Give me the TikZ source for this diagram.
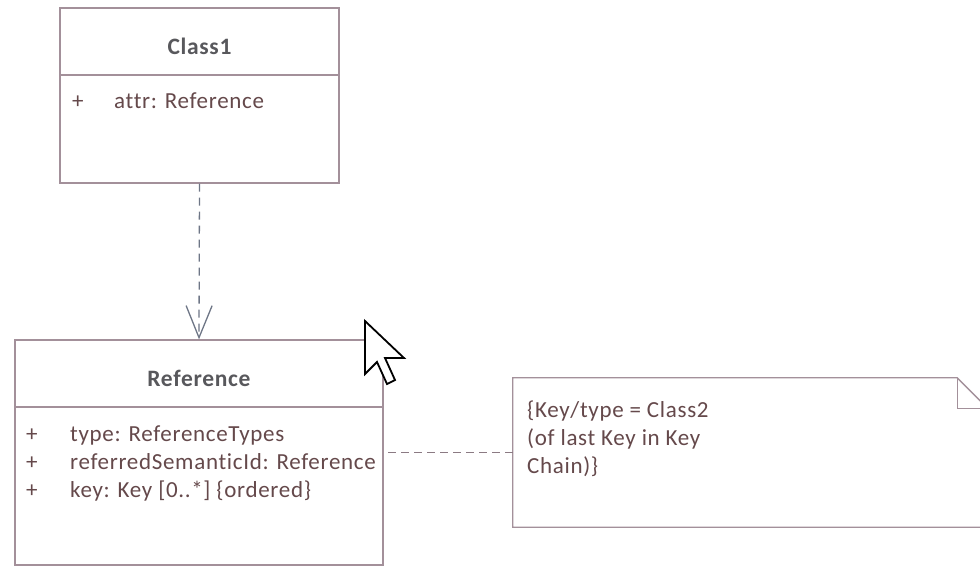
\documentclass[tikz,border=0pt]{standalone}
\usepackage{fontspec}
\setmainfont{Carlito}
\newfontfamily\umlfont[LetterSpace=3, Ligatures=NoCommon]{Carlito}
\usetikzlibrary{arrows.meta,calc}
\definecolor{umlline}{HTML}{A3909A}
\definecolor{umltext}{HTML}{65494B}
\definecolor{umltitle}{HTML}{58585C}
\definecolor{deparrow}{HTML}{6E7686}
\tikzset{
  classbox/.style={draw=umlline, line width=1.3pt, fill=white, rectangle, inner sep=0pt},
  divider/.style={draw=umlline, line width=1.3pt},
  title/.style={font=\umlfont\fontsize{23.5}{26}\selectfont\bfseries, text=umltitle, inner sep=0pt},
  attr/.style={font=\umlfont\fontsize{23}{28}\selectfont, text=umltext, inner sep=0pt, anchor=base west},
  dep/.style={draw=deparrow, line width=1.3pt, dash pattern=on 8pt off 6pt,
    -{Straight Barb[length=32pt, width=26pt, line width=1.3pt]}},
  notelink/.style={draw=umlline!85!black, line width=1.4pt, dash pattern=on 8pt off 5pt},
  cursor/.style={draw=black, fill=white, line width=1.8pt, line join=miter}
}
\begin{document}
\begin{tikzpicture}[x=1pt, y=-1pt]
\useasboundingbox (0,0) rectangle (980,566);
\clip (0,0) rectangle (980,566);
\fill[white] (0,0) rectangle (980,566);

% Class1
\node[classbox, minimum width=279pt, minimum height=175pt] (c1) at (199.5,95.5) {};
\draw[divider] (60,75) -- (339,75);
\node[title] (c1title) at (199.5,46) {Class1};
\node[attr] (c1plus) at (72,108) {+};
\node[attr] (c1attr) at (114,108) {attr: Reference};

% Reference
\node[classbox, minimum width=368pt, minimum height=225pt] (ref) at (199,452.5) {};
\draw[divider] (15,407) -- (383,407);
\node[title] (reftitle) at (199,378) {Reference};
\node[attr] (rp1) at (26,441) {+};
\node[attr] (ra1) at (70,441) {type: ReferenceTypes};
\node[attr] (rp2) at (26,469) {+};
\node[attr] (ra2) at (70,469) {referredSemanticId: Reference};
\node[attr] (rp3) at (26,497) {+};
\node[attr] (ra3) at (70,497) {key: Key [0..*] \{ordered\}};

% dependency
\draw[dep] (c1.south) -- (ref.north);

% note with folded corner
\node[inner sep=0pt, minimum width=475pt, minimum height=149pt] (note) at (750.5,452.5) {};
\draw[umlline, line width=1.3pt, fill=white]
  (note.north west) -- ($(note.north east)+(-31,0)$) -- ($(note.north east)+(0,31)$)
  -- (note.south east) -- (note.south west) -- cycle;
\draw[umlline, line width=1.3pt]
  ($(note.north east)+(-31,0)$) -- ($(note.north east)+(-31,31)$) -- ($(note.north east)+(0,31)$);
\node[attr] (n1) at (527,417) {\{Key/type = Class2};
\node[attr] (n2) at (527,445) {(of last Key in Key};
\node[attr] (n3) at (527,473) {Chain)\}};

\draw[notelink] (note.west) -- (note.west -| ref.east);

% mouse pointer
\draw[cursor] (365,321) -- (365,374) -- (377,362) -- (387,384) -- (395,380)
  -- (385,358) -- (404,358) -- cycle;
\end{tikzpicture}
\end{document}
